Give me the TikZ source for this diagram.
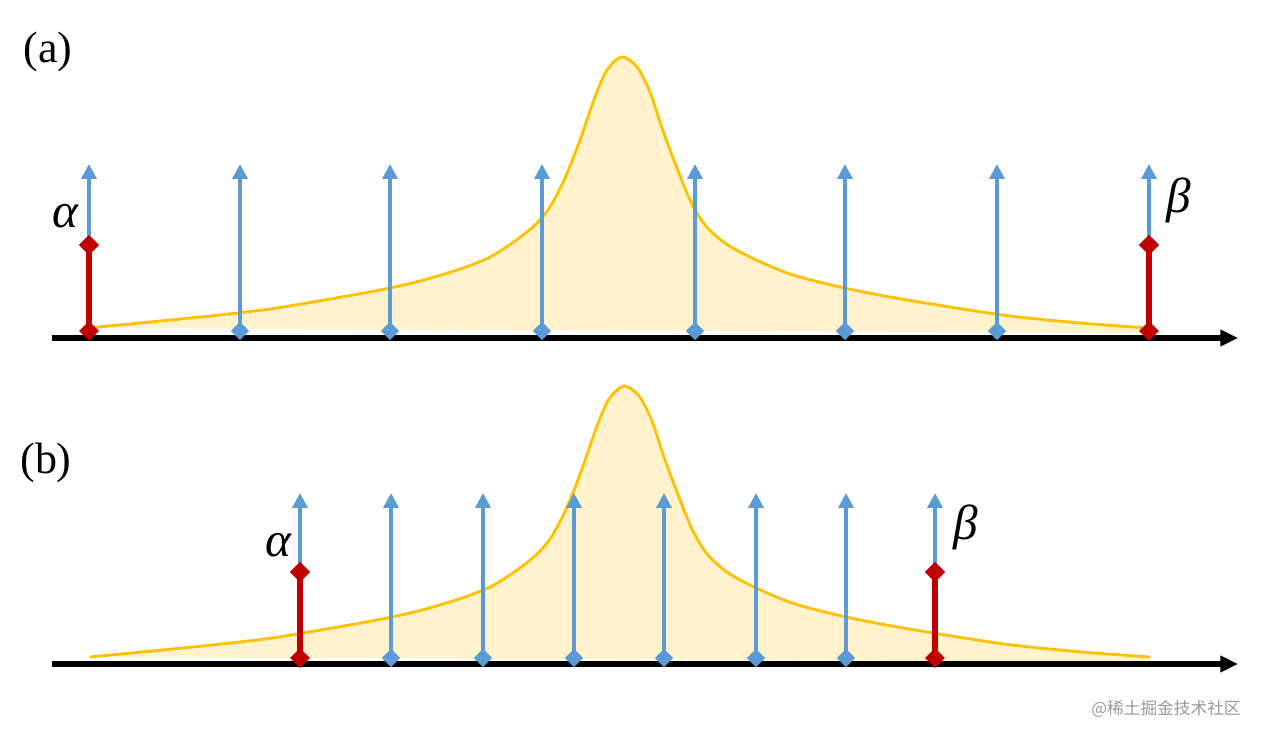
\documentclass[tikz,border=0pt]{standalone}
\usepackage{fontspec}
\setmainfont{Liberation Serif}
\newfontfamily\cjkfont{Noto Sans CJK SC}
\usetikzlibrary{arrows.meta,shapes.geometric}
\definecolor{stickblue}{HTML}{5B9BD5}
\definecolor{stickred}{HTML}{C00000}
\definecolor{peakline}{HTML}{FFC000}
\definecolor{peakfill}{HTML}{FFF2CC}
\tikzset{
  axisline/.style={line width=3.2pt,-{Triangle[length=10pt,width=9pt]}},
  stick/.style={stickblue,line width=2.1pt,-{Triangle[length=8.5pt,width=8.5pt]}},
  bound/.style={stickred,line width=3.2pt},
  bluedot/.style={diamond,fill=stickblue,inner sep=0pt,minimum size=10.5pt},
  reddot/.style={diamond,fill=stickred,inner sep=0pt,minimum size=11.5pt},
  greek/.style={font=\fontsize{28}{28}\selectfont\itshape},
  tag/.style={font=\fontsize{25}{25}\selectfont},
  peak/.pic={
    \fill[peakfill] (88,333) -- (88,328)
      plot[smooth] coordinates {(88,328) (150,322) (210,316) (270,309) (330,299)
        (380,290) (420,281) (460,269) (490,257) (515,241) (535,225) (550,207)
        (565,178) (580,140) (595,97) (607,70) (622,57) (637,67) (650,92)
        (662,128) (675,163) (690,200) (705,225) (725,243) (750,257) (790,274)
        (840,287) (890,297) (950,307) (1010,316) (1080,323) (1148,328)}
      -- (1148,333) -- cycle;
    \draw[peakline,line width=1.6pt]
      plot[smooth] coordinates {(88,328) (150,322) (210,316) (270,309) (330,299)
        (380,290) (420,281) (460,269) (490,257) (515,241) (535,225) (550,207)
        (565,178) (580,140) (595,97) (607,70) (622,57) (637,67) (650,92)
        (662,128) (675,163) (690,200) (705,225) (725,243) (750,257) (790,274)
        (840,287) (890,297) (950,307) (1010,316) (1080,323) (1148,328)};
  }
}

\begin{document}
\begin{tikzpicture}[x=0.02cm,y=-0.02cm]
  \useasboundingbox (0,0) rectangle (1268,740);

  % (a) wide spacing
  \pic at (0,0) {peak};
  \coordinate (a-o) at (52,338);
  \coordinate (a-e) at (1238,338);
  \draw[axisline] (a-o) -- (a-e);
  \foreach \x [count=\i] in {89,240,390,542,695,845,997,1149} {
    \node[bluedot] (a-b\i) at (\x,331) {};
    \coordinate (a-t\i) at (\x,164);
    \draw[stick] (a-b\i.center) -- (a-t\i);
  }
  \node[reddot] (a-l) at (89,245) {};
  \node[reddot] (a-r) at (1149,245) {};
  \draw[bound] (a-b1.center) -- (a-l.center)
               (a-b8.center) -- (a-r.center);
  \node[reddot] at (a-l) {};
  \node[reddot] at (a-r) {};
  \node[reddot] (a-lo) at (a-b1) {};
  \node[reddot] (a-ro) at (a-b8) {};
  \node[greek] (a-alpha) at (65,216) {α};
  \node[greek] (a-beta) at (1179,200) {β};
  \node[tag] (a-tag) at (48,52) {(a)};

  % (b) narrow spacing
  \pic at (2,329) {peak};
  \coordinate (b-o) at (52,664);
  \coordinate (b-e) at (1238,664);
  \draw[axisline] (b-o) -- (b-e);
  \foreach \x [count=\i] in {300,391,483,574,664,756,846,935} {
    \node[bluedot] (b-b\i) at (\x,658) {};
    \coordinate (b-t\i) at (\x,493);
    \draw[stick] (b-b\i.center) -- (b-t\i);
  }
  \node[reddot] (b-l) at (300,572) {};
  \node[reddot] (b-r) at (935,572) {};
  \draw[bound] (b-b1.center) -- (b-l.center)
               (b-b8.center) -- (b-r.center);
  \node[reddot] at (b-l) {};
  \node[reddot] at (b-r) {};
  \node[reddot] (b-lo) at (b-b1) {};
  \node[reddot] (b-ro) at (b-b8) {};
  \node[greek] (b-alpha) at (278,545) {α};
  \node[greek] (b-beta) at (966,527) {β};
  \node[tag] (b-tag) at (46,463) {(b)};

  \node[font=\cjkfont\fontsize{9.5}{10}\selectfont,text=black!40] (mark) at (1166,709) {@稀土掘金技术社区};
\end{tikzpicture}
\end{document}
